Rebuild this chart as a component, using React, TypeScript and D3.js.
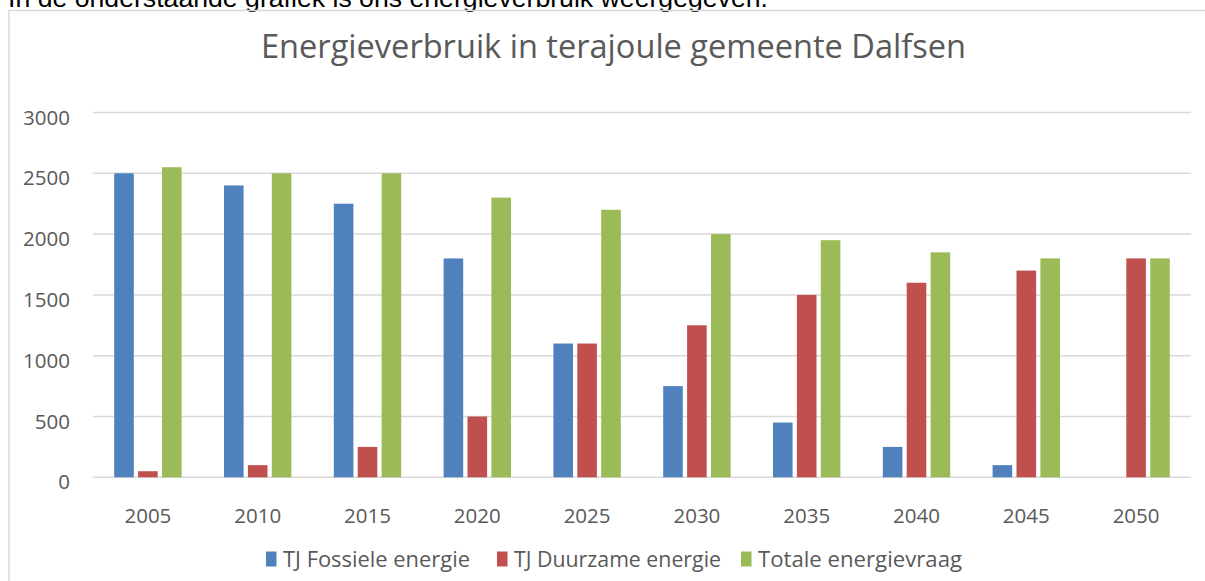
import React from "react";
import * as d3 from "d3";

const years = ["2005", "2010", "2015", "2020", "2025", "2030", "2035", "2040", "2045", "2050"];
const fossiel = [2500, 2400, 2250, 1800, 1100, 750, 450, 250, 100, 0];
const duurzaam = [50, 100, 250, 500, 1100, 1250, 1500, 1600, 1700, 1800];
const totaal = [2550, 2500, 2500, 2300, 2200, 2000, 1950, 1850, 1800, 1800];
const seriesNames = ["TJ Fossiele energie", "TJ Duurzame energie", "Totale energievraag"];
const seriesColors = ["#4f81bd", "#c0504d", "#9bbb59"];
const yTicks = [0, 500, 1000, 1500, 2000, 2500, 3000];

const W = 1205;
const H = 581;

export default function App() {
  const series = [fossiel, duurzaam, totaal];
  const x0 = d3.scaleBand<string>().domain(years).range([93, 1191]).padding(0);
  const groupW = 67.4;
  const x1 = d3
    .scaleBand<string>()
    .domain(seriesNames)
    .range([0, groupW])
    .paddingInner(0.18)
    .paddingOuter(0);
  const y = d3.scaleLinear().domain([0, 3000]).range([477.3, 112.5]);
  const textColor = "#595959";
  const font = "'Open Sans', sans-serif";

  const legendX = [266, 497, 741];
  const legendW = [187, 207, 204];

  return (
    <svg
      width={W}
      height={H}
      style={{ position: "fixed", left: 0, top: 0, background: "#fff" }}
    >
      <text
        x={8}
        y={7}
        fontFamily="'Liberation Sans', Arial, sans-serif"
        fontSize={26}
        fill="#000"
        textLength={760}
        lengthAdjust="spacingAndGlyphs"
      >
        In de onderstaande grafiek is ons energieverbruik weergegeven.
      </text>
      {/* chart border */}
      <line x1={9} x2={1205} y1={10.5} y2={10.5} stroke="#d9d9d9" strokeWidth={1.5} />
      <line x1={9} x2={9} y1={10} y2={H} stroke="#d9d9d9" strokeWidth={1.5} />

      <text
        x={613.5}
        y={58}
        textAnchor="middle"
        fontFamily={font}
        fontSize={32}
        fill={textColor}
        textLength={705}
        lengthAdjust="spacingAndGlyphs"
      >
        Energieverbruik in terajoule gemeente Dalfsen
      </text>

      {yTicks.map((t) => (
        <g key={t}>
          <line
            x1={93}
            x2={1191}
            y1={y(t)}
            y2={y(t)}
            stroke="#d9d9d9"
            strokeWidth={1.5}
          />
          <text
            x={70}
            y={y(t) + 12}
            textAnchor="end"
            fontFamily={font}
            fontSize={20.5}
            fill={textColor}
          >
            {t}
          </text>
        </g>
      ))}

      {years.map((yr, i) => {
        const cx = (x0(yr) as number) + x0.bandwidth() / 2;
        const gx = cx - groupW / 2;
        return (
          <g key={yr}>
            {series.map((s, si) => {
              const v = s[i];
              if (v <= 0) return null;
              return (
                <rect
                  key={si}
                  x={gx + (x1(seriesNames[si]) as number)}
                  y={y(v)}
                  width={x1.bandwidth()}
                  height={y(0) - y(v)}
                  fill={seriesColors[si]}
                />
              );
            })}
            <text
              x={cx}
              y={523}
              textAnchor="middle"
              fontFamily={font}
              fontSize={20.5}
              fill={textColor}
            >
              {yr}
            </text>
          </g>
        );
      })}

      {seriesNames.map((n, i) => (
        <g key={n}>
          <rect x={legendX[i]} y={551.5} width={10.5} height={15} fill={seriesColors[i]} />
          <text
            x={legendX[i] + 17}
            y={567}
            fontFamily={font}
            fontSize={21}
            fill={textColor}
            textLength={legendW[i]}
            lengthAdjust="spacingAndGlyphs"
          >
            {n}
          </text>
        </g>
      ))}
    </svg>
  );
}
